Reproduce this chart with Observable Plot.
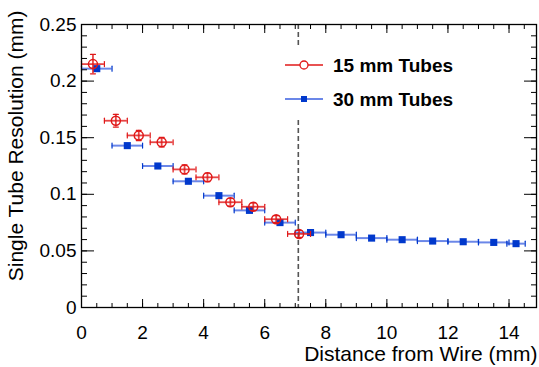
<!DOCTYPE html>
<html><head><meta charset="utf-8">
<script src="https://cdn.jsdelivr.net/npm/d3@7"></script>
<script src="https://cdn.jsdelivr.net/npm/@observablehq/plot@0.6"></script>
<style>
body{margin:0;background:#fff;}
#chart{position:relative;width:539px;height:367px;font-family:"Liberation Sans",Arial,sans-serif;}
#legend{position:absolute;left:0;top:0;pointer-events:none;}
</style></head><body><div id="chart"></div>
<script>
// 15 mm tubes (open red circles)
const redX    = [0.375, 1.125, 1.875, 2.625, 3.375, 4.125, 4.875, 5.625, 6.375, 7.125];
const redXErr = [0.375, 0.375, 0.375, 0.375, 0.375, 0.375, 0.375, 0.375, 0.375, 0.375];
const redY    = [0.215, 0.165, 0.152, 0.146, 0.122, 0.115, 0.093, 0.089, 0.078, 0.065];
const redYErr = [0.0086, 0.0056, 0.0045, 0.0042, 0.0040, 0.0038, 0.0035, 0.0033, 0.0031, 0.0030];
// 30 mm tubes (filled blue squares)
const blueX    = [0.5, 1.5, 2.5, 3.5, 4.5, 5.5, 6.5, 7.5, 8.5, 9.5, 10.5, 11.5, 12.5, 13.5, 14.23];
const blueXErr = [0.5, 0.5, 0.5, 0.5, 0.5, 0.5, 0.5, 0.5, 0.5, 0.5, 0.5, 0.5, 0.5, 0.5, 0.3];
const blueY    = [0.211, 0.143, 0.125, 0.1115, 0.0988, 0.0858, 0.075, 0.0662, 0.0643, 0.0613, 0.0599, 0.0587, 0.0581, 0.0575, 0.0564];
const cutX = 7.1;
const seriesNames = ["15 mm Tubes", "30 mm Tubes"];
const xMajor = [0, 2, 4, 6, 8, 10, 12, 14];
const xTickLabels = ["0", "2", "4", "6", "8", "10", "12", "14"];
const xMinor = d3.range(0, 14.9, 0.5);
const yMajor = [0, 0.05, 0.1, 0.15, 0.2, 0.25];
const yTickLabels = ["0", "0.05", "0.1", "0.15", "0.2", "0.25"];
const yMinor = d3.range(0, 0.2501, 0.01);
const xTitle = "Distance from Wire (mm)";
const yTitle = "Single Tube Resolution (mm)";

const RED = "#e01818", BLUE = "#0038cc", BLUE_BAR = "#3a5fe0";

const red = redX.map((x, i) => ({x, y: redY[i], xe: redXErr[i], ye: redYErr[i]}));
const blue = blueX.map((x, i) => ({x, y: blueY[i], xe: blueXErr[i]}));
const ends = (arr) => arr.flatMap(d => [{x: d.x - d.xe, y: d.y}, {x: d.x + d.xe, y: d.y}]);
const vEnds = (arr) => arr.flatMap(d => [{x: d.x, y: d.y - d.ye}, {x: d.x, y: d.y + d.ye}]);
const tickShape = {draw(ctx, l) { ctx.moveTo(0, 0); ctx.lineTo(0, -l); }};

const xFmt = d => xTickLabels[xMajor.indexOf(d)] ?? "";
const yFmt = d => { const i = yMajor.findIndex(v => Math.abs(v - d) < 1e-9); return i >= 0 ? yTickLabels[i] : ""; };
const blank = () => "";

const plot = Plot.plot({
  width: 539, height: 367,
  marginLeft: 81, marginRight: 3, marginTop: 24, marginBottom: 60,
  x: {domain: [0, 14.9]},
  y: {domain: [0, 0.25]},
  style: {fontFamily: "'Liberation Sans', Arial, sans-serif", fontSize: "19px", color: "black", background: "white", overflow: "visible"},
  marks: [
    Plot.ruleX([cutX], {stroke: "#555", strokeWidth: 1.6, strokeDasharray: "5,3"}),
    // blue series
    Plot.ruleY(blue, {y: "y", x1: d => d.x - d.xe, x2: d => d.x + d.xe, stroke: BLUE_BAR, strokeWidth: 2, strokeOpacity: 0.75}),
    Plot.vector(ends(blue), {x: "x", y: "y", length: 5, rotate: 0, anchor: "middle", shape: tickShape, stroke: BLUE, strokeWidth: 1.2}),
    Plot.dot(blue, {x: "x", y: "y", symbol: "square", r: 4, fill: BLUE, stroke: "none"}),
    // red series
    Plot.ruleY(red, {y: "y", x1: d => d.x - d.xe, x2: d => d.x + d.xe, stroke: RED, strokeWidth: 1.8, strokeOpacity: 0.8}),
    Plot.ruleX(red, {x: "x", y1: d => d.y - d.ye, y2: d => d.y + d.ye, stroke: RED, strokeWidth: 1.8, strokeOpacity: 0.8}),
    Plot.vector(ends(red), {x: "x", y: "y", length: 5, rotate: 0, anchor: "middle", shape: tickShape, stroke: RED, strokeWidth: 1.2}),
    Plot.vector(vEnds(red), {x: "x", y: "y", length: 5, rotate: 90, anchor: "middle", shape: tickShape, stroke: RED, strokeWidth: 1.2}),
    Plot.dot(red, {x: "x", y: "y", r: 4.5, stroke: RED, strokeWidth: 1.5, fill: "none"}),
    // axes (ROOT style: inward ticks on all sides)
    Plot.axisX({ticks: xMajor, tickSize: -8, tickPadding: 26, tickFormat: xFmt, label: null}),
    Plot.axisX({ticks: xMinor, tickSize: -4, tickFormat: blank, label: null}),
    Plot.axisX({anchor: "top", ticks: xMajor, tickSize: -8, tickFormat: blank, label: null}),
    Plot.axisX({anchor: "top", ticks: xMinor, tickSize: -4, tickFormat: blank, label: null}),
    Plot.axisY({ticks: yMajor, tickSize: -13, tickPadding: 18, tickFormat: yFmt, label: null}),
    Plot.axisY({ticks: yMinor, tickSize: -6, tickFormat: blank, label: null}),
    Plot.axisY({anchor: "right", ticks: yMajor, tickSize: -13, tickFormat: blank, label: null}),
    Plot.axisY({anchor: "right", ticks: yMinor, tickSize: -6, tickFormat: blank, label: null}),
    Plot.frame({stroke: "black", strokeWidth: 1.3}),
    Plot.text([xTitle], {frameAnchor: "bottom-right", textAnchor: "end", lineAnchor: "middle", dx: 1, dy: 47, fontSize: 21, fill: "black"}),
    Plot.text([yTitle], {frameAnchor: "top-left", rotate: -90, textAnchor: "end", lineAnchor: "middle", dx: -65, dy: -14, fontSize: 21, fill: "black"})
  ]
});
const chart = document.getElementById("chart");
chart.appendChild(plot);

// legend overlay
const lg = d3.select(chart).append("svg").attr("id", "legend").attr("width", 539).attr("height", 367)
  .style("font-family", "'Liberation Sans', Arial, sans-serif");
lg.append("rect").attr("x", 281).attr("y", 46).attr("width", 190).attr("height", 71).attr("fill", "white");
const items = [
  {name: seriesNames[0], y: 65, kind: "circle"},
  {name: seriesNames[1], y: 99, kind: "square"}
];
items.forEach(it => {
  const g = lg.append("g");
  g.append("line").attr("x1", 285).attr("x2", 323).attr("y1", it.y).attr("y2", it.y)
    .attr("stroke", it.kind === "circle" ? RED : BLUE_BAR).attr("stroke-width", it.kind === "circle" ? 1.5 : 2)
    .attr("stroke-opacity", it.kind === "circle" ? 1 : 0.75);
  if (it.kind === "circle") {
    g.append("circle").attr("cx", 304).attr("cy", it.y).attr("r", 4).attr("fill", "white").attr("stroke", RED).attr("stroke-width", 1.3);
  } else {
    g.append("rect").attr("x", 301).attr("y", it.y - 3).attr("width", 6).attr("height", 6).attr("fill", BLUE);
  }
  g.append("text").attr("x", 333).attr("y", it.y).attr("dy", "0.36em").attr("font-size", 19).attr("font-weight", "bold").attr("fill", "black").text(it.name);
});
</script></body></html>
